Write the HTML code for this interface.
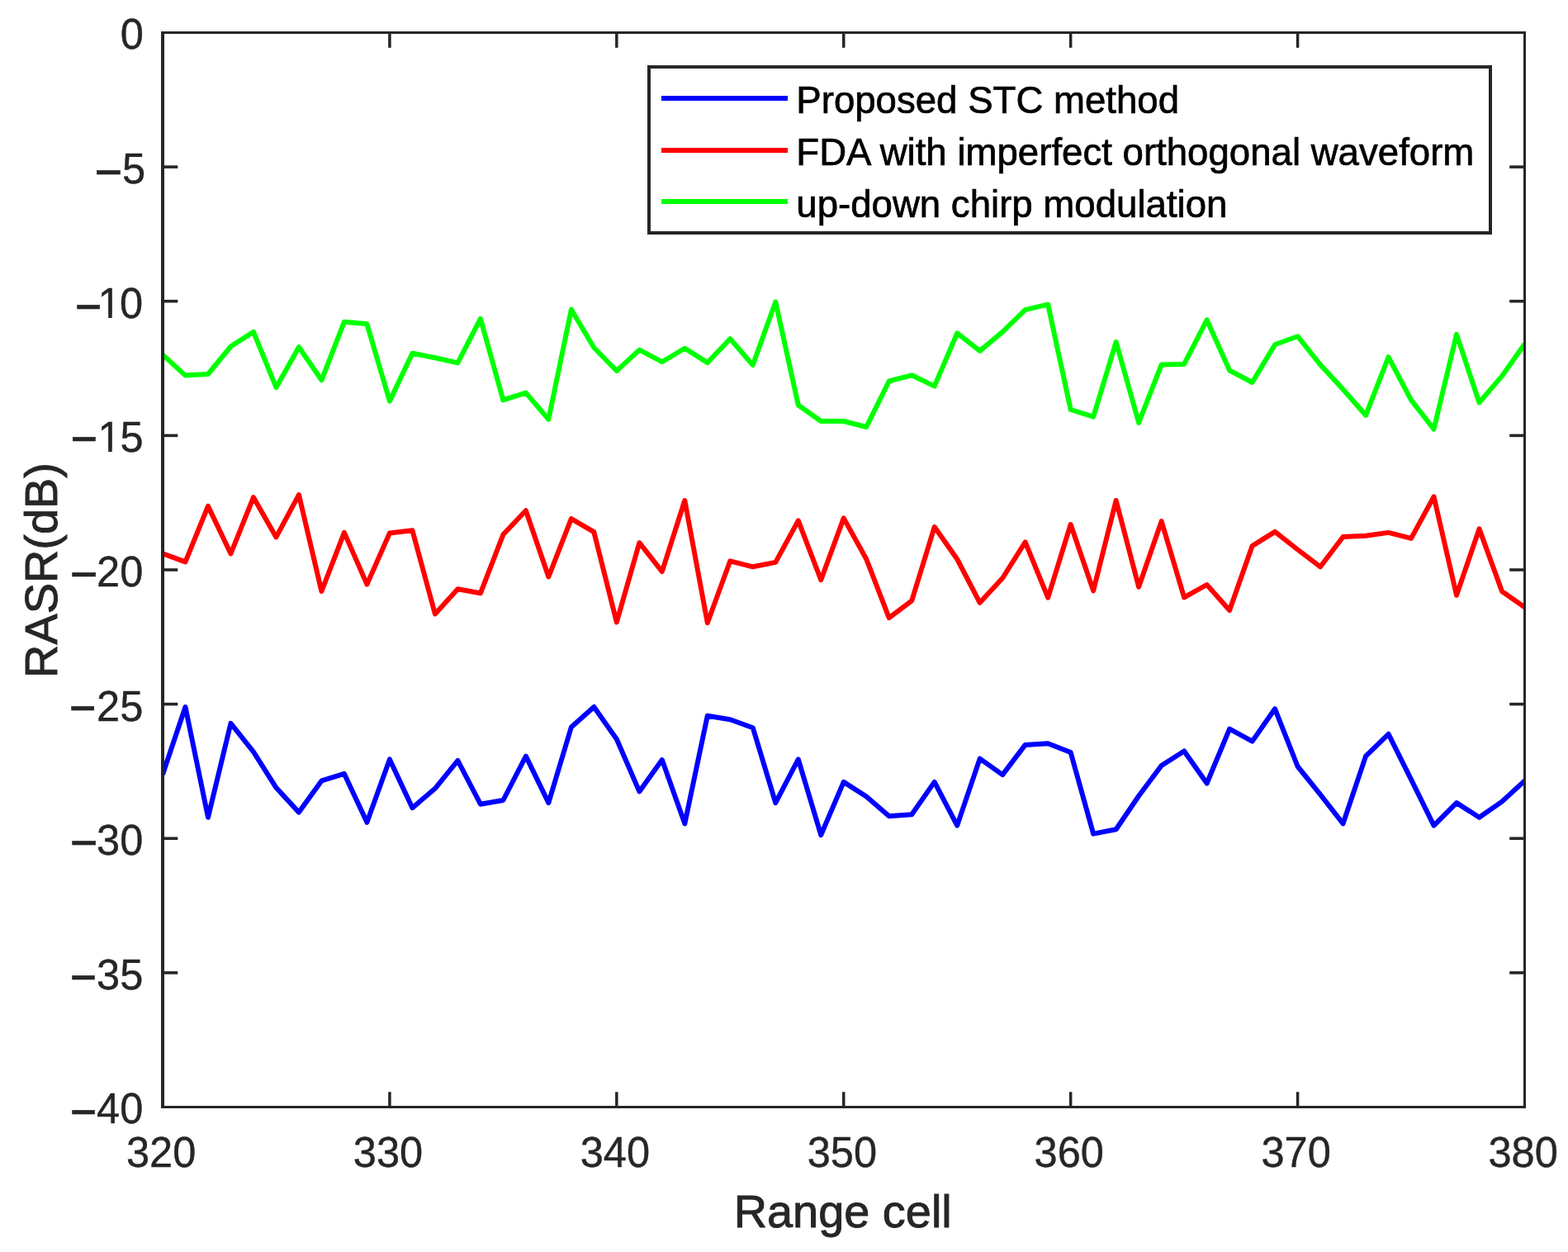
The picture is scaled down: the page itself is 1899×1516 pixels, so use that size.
<!DOCTYPE html>
<html><head><meta charset="utf-8"><title>RASR vs Range cell</title>
<style>
html,body{margin:0;padding:0;background:#fff;overflow:hidden;}
svg{display:block;}
text{font-family:"Liberation Sans",Arial,Helvetica,sans-serif;}
</style></head><body>
<svg width="1899" height="1516" viewBox="0 0 1899 1516">
<rect x="0" y="0" width="1899" height="1516" fill="#fff"/>
<defs><clipPath id="c"><rect x="197.0" y="39.5" width="1649.5" height="1301.0"/></clipPath><clipPath id="one10"><rect x="0" y="0" width="1899" height="380.07"/><rect x="145.70" y="378.97" width="60" height="12"/><rect x="131.22" y="378.97" width="4.47" height="6"/></clipPath><clipPath id="one15"><rect x="0" y="0" width="1899" height="542.69"/><rect x="146.10" y="541.59" width="60" height="12"/><rect x="131.22" y="541.59" width="4.47" height="6"/></clipPath></defs>
<g clip-path="url(#c)" fill="none" stroke-width="6" stroke-linejoin="round" stroke-linecap="butt">
<polyline stroke="#0000ff" points="197.00,937.70 224.49,856.00 251.98,989.70 279.48,875.90 306.97,910.30 334.46,953.80 361.95,983.60 389.44,945.40 416.93,936.90 444.43,995.80 471.92,919.40 499.41,978.20 526.90,954.80 554.39,920.90 581.88,973.70 609.38,969.00 636.87,915.60 664.36,972.10 691.85,880.50 719.34,856.00 746.83,895.00 774.33,958.40 801.82,920.10 829.31,997.30 856.80,866.70 884.29,871.30 911.78,881.20 939.27,972.10 966.77,919.40 994.26,1011.10 1021.75,946.90 1049.24,964.50 1076.73,988.20 1104.22,986.30 1131.72,946.90 1159.21,999.60 1186.70,918.60 1214.19,938.10 1241.68,901.90 1269.17,900.30 1296.67,911.00 1324.16,1009.60 1351.65,1004.20 1379.14,963.70 1406.63,927.00 1434.12,909.50 1461.62,948.50 1489.11,882.70 1516.60,897.60 1544.09,858.30 1571.58,928.00 1599.08,962.20 1626.57,997.30 1654.06,915.60 1681.55,888.80 1709.04,943.80 1736.53,999.60 1764.03,972.10 1791.52,989.70 1819.01,970.60 1846.50,945.40"/>
<polyline stroke="#ff0000" points="197.00,670.20 224.49,680.40 251.98,612.90 279.48,670.50 306.97,602.20 334.46,650.40 361.95,599.10 389.44,716.00 416.93,644.90 444.43,707.60 471.92,645.50 499.41,642.30 526.90,743.50 554.39,713.20 581.88,718.30 609.38,647.30 636.87,618.20 664.36,698.50 691.85,628.10 719.34,644.20 746.83,753.40 774.33,657.20 801.82,692.10 829.31,606.00 856.80,754.20 884.29,679.30 911.78,686.30 939.27,680.90 966.77,630.40 994.26,702.30 1021.75,627.40 1049.24,677.00 1076.73,748.10 1104.22,727.40 1131.72,638.10 1159.21,677.00 1186.70,729.80 1214.19,700.00 1241.68,656.40 1269.17,723.70 1296.67,635.00 1324.16,715.30 1351.65,606.00 1379.14,710.70 1406.63,631.20 1434.12,723.40 1461.62,708.00 1489.11,738.90 1516.60,661.00 1544.09,643.90 1571.58,665.50 1599.08,686.30 1626.57,650.00 1654.06,648.80 1681.55,644.90 1709.04,651.90 1736.53,601.40 1764.03,720.80 1791.52,640.40 1819.01,716.00 1846.50,735.30"/>
<polyline stroke="#00ff00" points="197.00,429.40 224.49,454.60 251.98,453.00 279.48,419.50 306.97,401.90 334.46,469.20 361.95,420.20 389.44,460.30 416.93,389.70 444.43,392.30 471.92,485.60 499.41,427.80 526.90,433.20 554.39,439.40 581.88,385.90 609.38,484.40 636.87,475.60 664.36,507.70 691.85,374.80 719.34,421.00 746.83,449.00 774.33,423.70 801.82,438.20 829.31,421.70 856.80,439.10 884.29,410.30 911.78,442.10 939.27,365.50 966.77,490.50 994.26,510.00 1021.75,510.00 1049.24,517.00 1076.73,461.50 1104.22,454.30 1131.72,467.60 1159.21,403.40 1186.70,424.90 1214.19,401.90 1241.68,375.20 1269.17,368.70 1296.67,496.00 1324.16,504.70 1351.65,414.10 1379.14,511.90 1406.63,441.60 1434.12,440.90 1461.62,387.40 1489.11,448.50 1516.60,463.00 1544.09,417.20 1571.58,407.20 1599.08,441.60 1626.57,471.40 1654.06,502.80 1681.55,432.40 1709.04,484.40 1736.53,519.60 1764.03,404.90 1791.52,487.50 1819.01,455.40 1846.50,416.40"/>
</g>
<g stroke="#262626" fill="none" stroke-linecap="butt">
<line x1="197.0" y1="38.0" x2="197.0" y2="1342.0" stroke-width="4"/>
<line x1="1846.5" y1="38.0" x2="1846.5" y2="1342.0" stroke-width="3"/>
<line x1="195.0" y1="39.5" x2="1848.0" y2="39.5" stroke-width="3"/>
<line x1="195.0" y1="1340.5" x2="1848.0" y2="1340.5" stroke-width="3"/>
<line x1="471.92" y1="1340.5" x2="471.92" y2="1322.2" stroke-width="3.5"/>
<line x1="471.92" y1="39.5" x2="471.92" y2="57.8" stroke-width="3.5"/>
<line x1="746.83" y1="1340.5" x2="746.83" y2="1322.2" stroke-width="3.5"/>
<line x1="746.83" y1="39.5" x2="746.83" y2="57.8" stroke-width="3.5"/>
<line x1="1021.75" y1="1340.5" x2="1021.75" y2="1322.2" stroke-width="3.5"/>
<line x1="1021.75" y1="39.5" x2="1021.75" y2="57.8" stroke-width="3.5"/>
<line x1="1296.67" y1="1340.5" x2="1296.67" y2="1322.2" stroke-width="3.5"/>
<line x1="1296.67" y1="39.5" x2="1296.67" y2="57.8" stroke-width="3.5"/>
<line x1="1571.58" y1="1340.5" x2="1571.58" y2="1322.2" stroke-width="3.5"/>
<line x1="1571.58" y1="39.5" x2="1571.58" y2="57.8" stroke-width="3.5"/>
<line x1="197.0" y1="202.12" x2="215.3" y2="202.12" stroke-width="3.6"/>
<line x1="1846.5" y1="202.12" x2="1828.2" y2="202.12" stroke-width="3.6"/>
<line x1="197.0" y1="364.75" x2="215.3" y2="364.75" stroke-width="3.6"/>
<line x1="1846.5" y1="364.75" x2="1828.2" y2="364.75" stroke-width="3.6"/>
<line x1="197.0" y1="527.38" x2="215.3" y2="527.38" stroke-width="3.6"/>
<line x1="1846.5" y1="527.38" x2="1828.2" y2="527.38" stroke-width="3.6"/>
<line x1="197.0" y1="690.00" x2="215.3" y2="690.00" stroke-width="3.6"/>
<line x1="1846.5" y1="690.00" x2="1828.2" y2="690.00" stroke-width="3.6"/>
<line x1="197.0" y1="852.62" x2="215.3" y2="852.62" stroke-width="3.6"/>
<line x1="1846.5" y1="852.62" x2="1828.2" y2="852.62" stroke-width="3.6"/>
<line x1="197.0" y1="1015.25" x2="215.3" y2="1015.25" stroke-width="3.6"/>
<line x1="1846.5" y1="1015.25" x2="1828.2" y2="1015.25" stroke-width="3.6"/>
<line x1="197.0" y1="1177.88" x2="215.3" y2="1177.88" stroke-width="3.6"/>
<line x1="1846.5" y1="1177.88" x2="1828.2" y2="1177.88" stroke-width="3.6"/>
</g>
<g fill="#262626" font-size="50.6" stroke="#262626" stroke-width="0.4">
<text x="195.10" y="1413.2" text-anchor="middle" transform="matrix(1,0,0,1.015,0,-21.198)">320</text>
<text x="470.02" y="1413.2" text-anchor="middle" transform="matrix(1,0,0,1.015,0,-21.198)">330</text>
<text x="744.93" y="1413.2" text-anchor="middle" transform="matrix(1,0,0,1.015,0,-21.198)">340</text>
<text x="1019.85" y="1413.2" text-anchor="middle" transform="matrix(1,0,0,1.015,0,-21.198)">350</text>
<text x="1294.77" y="1413.2" text-anchor="middle" transform="matrix(1,0,0,1.015,0,-21.198)">360</text>
<text x="1569.68" y="1413.2" text-anchor="middle" transform="matrix(1,0,0,1.015,0,-21.198)">370</text>
<text x="1844.60" y="1413.2" text-anchor="middle" transform="matrix(1,0,0,1.015,0,-21.198)">380</text>
<text x="174" y="59.50" text-anchor="end" transform="matrix(1,0,0,1.015,0,-0.892)">0</text>
<text x="176.2" y="222.12" text-anchor="end" transform="matrix(1,0,0,1.015,0,-3.332)">5</text>
<text transform="translate(114.35,230.71) scale(1.1510,1.32)">−</text>
<text x="118.5 145.0" y="384.75" transform="matrix(1,0,0,1.015,0,-5.771)" clip-path="url(#one10)">10</text>
<text transform="translate(90.45,394.11) scale(1.1124,1.32)">−</text>
<text x="118.5 145.4" y="547.38" transform="matrix(1,0,0,1.015,0,-8.211)" clip-path="url(#one15)">15</text>
<text transform="translate(85.33,553.81) scale(1.1165,1.32)">−</text>
<text x="173.4" y="710.00" text-anchor="end" transform="matrix(1,0,0,1.015,0,-10.650)">20</text>
<text transform="translate(84.45,718.21) scale(1.1490,1.32)">−</text>
<text x="173.4" y="872.62" text-anchor="end" transform="matrix(1,0,0,1.015,0,-13.089)">25</text>
<text transform="translate(83.54,880.41) scale(1.1148,1.32)">−</text>
<text x="173.4" y="1035.25" text-anchor="end" transform="matrix(1,0,0,1.015,0,-15.529)">30</text>
<text transform="translate(84.45,1043.21) scale(1.1490,1.32)">−</text>
<text x="173.4" y="1197.88" text-anchor="end" transform="matrix(1,0,0,1.015,0,-17.968)">35</text>
<text transform="translate(84.56,1206.01) scale(1.1063,1.32)">−</text>
<text x="173.4" y="1360.50" text-anchor="end" transform="matrix(1,0,0,1.015,0,-20.407)">40</text>
<text transform="translate(84.52,1369.31) scale(1.1079,1.32)">−</text>
</g>
<text x="1020.7" y="1486" text-anchor="middle" font-size="55.9" fill="#262626" stroke="#262626" stroke-width="0.9">Range cell</text>
<text transform="translate(69,690.5) rotate(-90)" x="0" y="0" text-anchor="middle" font-size="55.9" fill="#262626" stroke="#262626" stroke-width="0.9">RASR(dB)</text>
<rect x="786" y="81" width="1019" height="201" fill="#fff" stroke="#262626" stroke-width="4"/>
<line x1="801" y1="119" x2="954" y2="119" stroke="#0000ff" stroke-width="6"/>
<text x="964.3" y="137" font-size="45.6" fill="#000" stroke="#000" stroke-width="0.7">Proposed STC method</text>
<line x1="801" y1="182" x2="954" y2="182" stroke="#ff0000" stroke-width="6"/>
<text x="964.3" y="199.8" font-size="45.6" fill="#000" stroke="#000" stroke-width="0.7">FDA with imperfect orthogonal waveform</text>
<line x1="801" y1="244" x2="954" y2="244" stroke="#00ff00" stroke-width="6"/>
<text x="964.3" y="262.5" font-size="45.6" fill="#000" stroke="#000" stroke-width="0.7">up-down chirp modulation</text>
</svg>
</body></html>
